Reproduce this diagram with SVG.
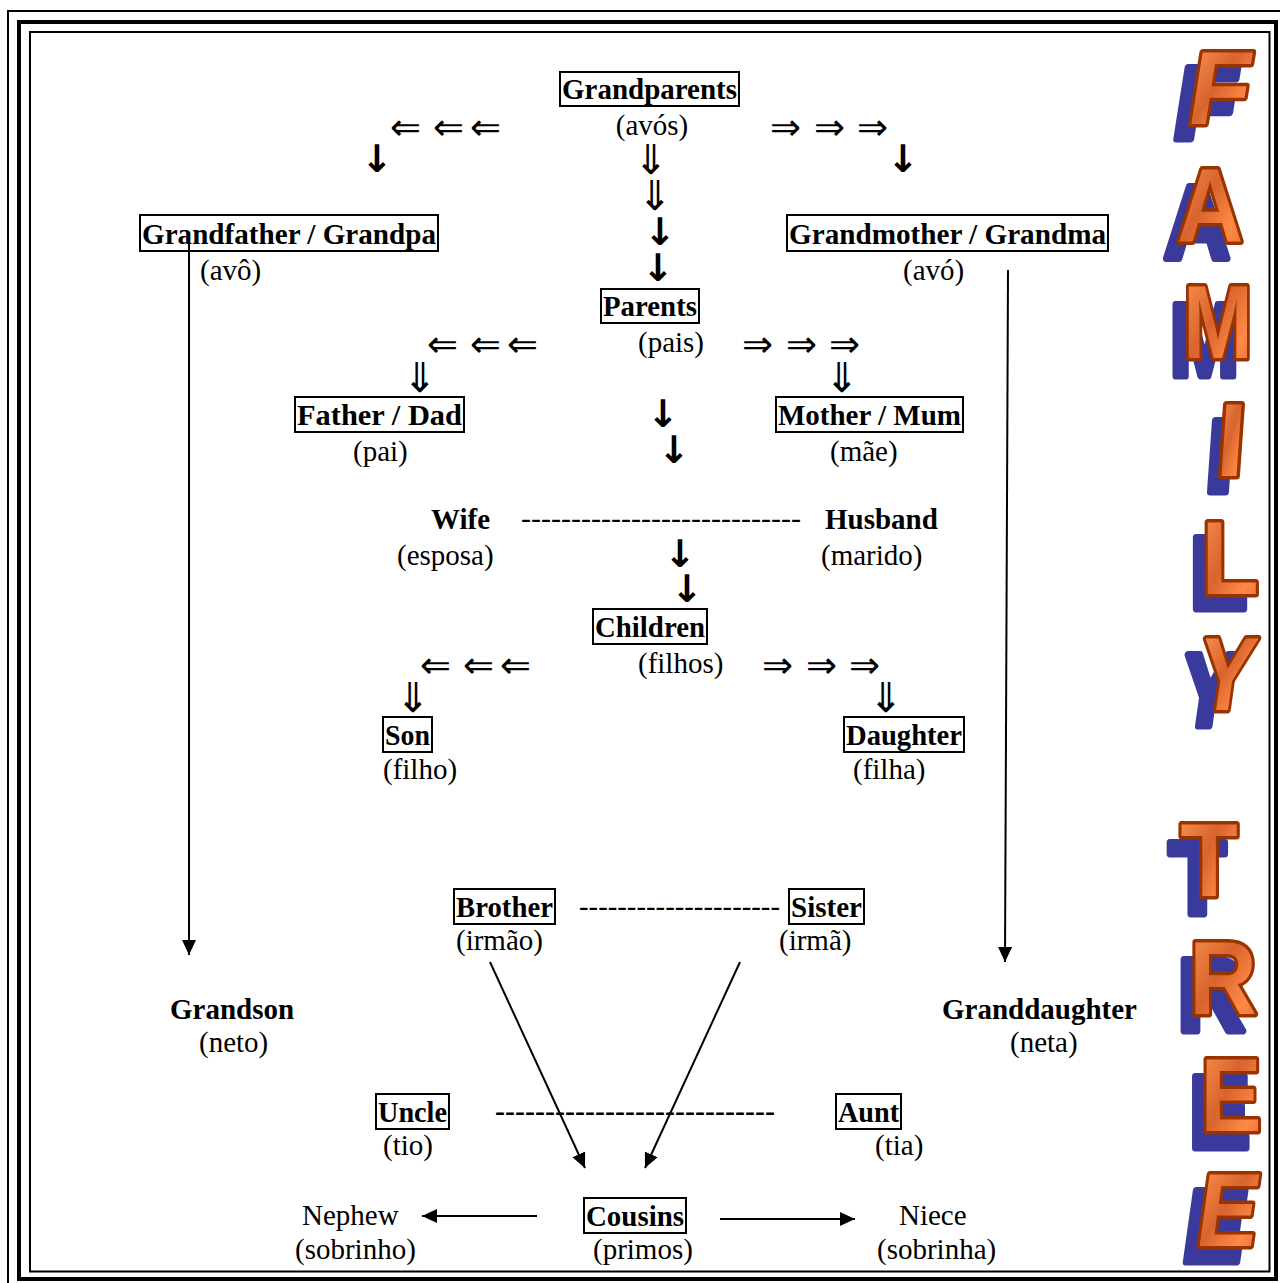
<svg xmlns="http://www.w3.org/2000/svg" width="1280" height="1283" viewBox="0 0 1280 1283">
<defs>
<style>
.b{font-family:"Liberation Serif","Times New Roman",serif;font-weight:bold;font-size:29px;fill:#000}
.n{font-family:"Liberation Serif","Times New Roman",serif;font-size:29px;fill:#000}
.m{font-family:"DejaVu Sans",sans-serif;font-size:37px;fill:#000}
.v{font-family:"DejaVu Sans",sans-serif;font-size:41px;fill:#000}
.d{font-family:"DejaVu Sans",sans-serif;font-size:38px;font-weight:bold;fill:#000}
.bx{fill:none;stroke:#000;stroke-width:2}
.ln{fill:none;stroke:#000;stroke-width:2}
.fr{fill:none;stroke:#000}
.sh{font-family:"Liberation Sans",Arial,sans-serif;font-weight:bold;font-size:104px;fill:#3a3a9c;stroke:#3a3a9c;stroke-width:7;stroke-linejoin:round}
.fg{font-family:"Liberation Sans",Arial,sans-serif;font-weight:bold;font-size:104px;fill:url(#og);stroke:#993300;stroke-width:7;stroke-linejoin:round;paint-order:stroke fill}
</style>
<linearGradient id="og" x1="0" y1="0" x2="1" y2="1">
<stop offset="0" stop-color="#ff9650"/>
<stop offset="0.45" stop-color="#d8642e"/>
<stop offset="0.75" stop-color="#ff8a45"/>
<stop offset="1" stop-color="#e06c34"/>
</linearGradient>
<marker id="ah" markerUnits="userSpaceOnUse" markerWidth="16" markerHeight="14" refX="15" refY="7" orient="auto">
<path d="M0,0 L15,7 L0,14 z" fill="#000"/>
</marker>
</defs>
<rect width="1280" height="1283" fill="#fff"/>
<g id="frame">
<rect class="fr" x="8" y="11" width="1300" height="1300" stroke-width="2"/>
<rect class="fr" x="19" y="22" width="1257" height="1257" stroke-width="4"/>
<rect class="fr" x="30" y="32" width="1239.5" height="1239.5" stroke-width="2"/>
</g>

<g id="title">
<g transform="translate(1215,124) skewX(-9) scale(0.95,1)"><text class="sh" x="-13" y="15" text-anchor="middle">F</text><text class="fg" x="0" y="0" text-anchor="middle">F</text></g>
<g transform="translate(1210,241) scale(0.88,1)"><text class="sh" x="-15" y="17" text-anchor="middle">A</text><text class="fg" x="0" y="0" text-anchor="middle">A</text></g>
<g transform="translate(1218,358) scale(0.8,1)"><text class="sh" x="-17" y="18" text-anchor="middle">M</text><text class="fg" x="0" y="0" text-anchor="middle">M</text></g>
<g transform="translate(1229,476) skewX(-4)"><text class="sh" x="-10" y="16" text-anchor="middle">I</text><text class="fg" x="0" y="0" text-anchor="middle">I</text></g>
<g transform="translate(1230,594) scale(0.9,1)"><text class="sh" x="-13" y="15" text-anchor="middle">L</text><text class="fg" x="0" y="0" text-anchor="middle">L</text></g>
<g transform="translate(1222,710) skewX(-8) scale(0.8,1)"><text class="sh" x="-20" y="16" text-anchor="middle">Y</text><text class="fg" x="0" y="0" text-anchor="middle">Y</text></g>
<g transform="translate(1209,896) scale(0.9,1)"><text class="sh" x="-13" y="18" text-anchor="middle">T</text><text class="fg" x="0" y="0" text-anchor="middle">T</text></g>
<g transform="translate(1223,1014) scale(0.9,1)"><text class="sh" x="-13" y="17" text-anchor="middle">R</text><text class="fg" x="0" y="0" text-anchor="middle">R</text></g>
<g transform="translate(1231,1131) scale(0.88,1)"><text class="sh" x="-13" y="17" text-anchor="middle">E</text><text class="fg" x="0" y="0" text-anchor="middle">E</text></g>
<g transform="translate(1224,1246) skewX(-8) scale(0.88,1)"><text class="sh" x="-13" y="16" text-anchor="middle">E</text><text class="fg" x="0" y="0" text-anchor="middle">E</text></g>
</g>

<g id="connectors">
<line class="ln" x1="189" y1="240" x2="189" y2="955" marker-end="url(#ah)"/>
<line class="ln" x1="1008" y1="270" x2="1005" y2="962" marker-end="url(#ah)"/>
<line class="ln" x1="490" y1="962" x2="585" y2="1168" marker-end="url(#ah)"/>
<line class="ln" x1="740" y1="962" x2="645" y2="1168" marker-end="url(#ah)"/>
<line class="ln" x1="537" y1="1216" x2="422" y2="1216" marker-end="url(#ah)"/>
<line class="ln" x1="720" y1="1219" x2="855" y2="1219" marker-end="url(#ah)"/>
<text class="n" x="521" y="528" textLength="280" lengthAdjust="spacingAndGlyphs">----------------------------</text>
<text class="n" x="579" y="916" textLength="201" lengthAdjust="spacingAndGlyphs">---------------------</text>
<text class="b" x="495" y="1121" textLength="280" lengthAdjust="spacingAndGlyphs">----------------------------</text>
<text class="m" x="390 420 433 470" y="140">⇐ ⇐⇐</text>
<text class="m" x="770 800 814 843 857" y="140">⇒ ⇒ ⇒</text>
<text class="m" x="427 457 470 507" y="357">⇐ ⇐⇐</text>
<text class="m" x="742 772 786 815 829" y="357">⇒ ⇒ ⇒</text>
<text class="m" x="420 450 463 500" y="678">⇐ ⇐⇐</text>
<text class="m" x="762 792 806 835 849" y="678">⇒ ⇒ ⇒</text>
<g class="v" text-anchor="middle">
<text x="651" y="174">⇓</text>
<text x="655" y="210">⇓</text>
<text x="420" y="392">⇓</text>
<text x="842" y="392">⇓</text>
<text x="413" y="712">⇓</text>
<text x="886" y="712">⇓</text>
</g>
<g class="d" text-anchor="middle">
<text x="377" y="172">↓</text>
<text x="903" y="172">↓</text>
<text x="660" y="245">↓</text>
<text x="658" y="281">↓</text>
<text x="663" y="427">↓</text>
<text x="674" y="463">↓</text>
<text x="680" y="567">↓</text>
<text x="687" y="602">↓</text>
</g>
</g>

<g id="grandparents"><rect class="bx" x="560" y="72" width="179" height="34"/><text class="b" x="562" y="99" textLength="175" lengthAdjust="spacingAndGlyphs">Grandparents</text><text class="n" x="652" y="135" text-anchor="middle">(avós)</text></g>
<g id="grandfather"><rect class="bx" x="140" y="215" width="298" height="36"/><text class="b" x="142" y="244" textLength="294" lengthAdjust="spacingAndGlyphs">Grandfather / Grandpa</text><text class="n" x="200" y="280">(avô)</text></g>
<g id="grandmother"><rect class="bx" x="787" y="215" width="321" height="36"/><text class="b" x="789" y="244" textLength="317" lengthAdjust="spacingAndGlyphs">Grandmother / Grandma</text><text class="n" x="903" y="280">(avó)</text></g>
<g id="parents"><rect class="bx" x="601" y="289" width="98" height="34"/><text class="b" x="603" y="316" textLength="94" lengthAdjust="spacingAndGlyphs">Parents</text><text class="n" x="638" y="352">(pais)</text></g>
<g id="father"><rect class="bx" x="295" y="397" width="169" height="35"/><text class="b" x="297" y="425" textLength="165" lengthAdjust="spacingAndGlyphs">Father / Dad</text><text class="n" x="353" y="461">(pai)</text></g>
<g id="mother"><rect class="bx" x="776" y="397" width="187" height="35"/><text class="b" x="778" y="425" textLength="183" lengthAdjust="spacingAndGlyphs">Mother / Mum</text><text class="n" x="830" y="461">(mãe)</text></g>
<g id="wife"><text class="b" x="431" y="529">Wife</text><text class="n" x="397" y="565">(esposa)</text></g>
<g id="husband"><text class="b" x="825" y="529">Husband</text><text class="n" x="821" y="565">(marido)</text></g>
<g id="children"><rect class="bx" x="593" y="609" width="114" height="35"/><text class="b" x="595" y="637" textLength="110" lengthAdjust="spacingAndGlyphs">Children</text><text class="n" x="638" y="673">(filhos)</text></g>
<g id="son"><rect class="bx" x="383" y="717" width="49" height="35"/><text class="b" x="385" y="745" textLength="45" lengthAdjust="spacingAndGlyphs">Son</text><text class="n" x="383" y="779">(filho)</text></g>
<g id="daughter"><rect class="bx" x="844" y="717" width="120" height="35"/><text class="b" x="846" y="745" textLength="116" lengthAdjust="spacingAndGlyphs">Daughter</text><text class="n" x="853" y="779">(filha)</text></g>
<g id="brother"><rect class="bx" x="454" y="889" width="101" height="35"/><text class="b" x="456" y="917" textLength="97" lengthAdjust="spacingAndGlyphs">Brother</text><text class="n" x="456" y="950">(irmão)</text></g>
<g id="sister"><rect class="bx" x="789" y="889" width="75" height="35"/><text class="b" x="791" y="917" textLength="71" lengthAdjust="spacingAndGlyphs">Sister</text><text class="n" x="779" y="950">(irmã)</text></g>
<g id="grandson"><text class="b" x="170" y="1019">Grandson</text><text class="n" x="199" y="1052">(neto)</text></g>
<g id="granddaughter"><text class="b" x="942" y="1019">Granddaughter</text><text class="n" x="1010" y="1052">(neta)</text></g>
<g id="uncle"><rect class="bx" x="376" y="1094" width="73" height="35"/><text class="b" x="378" y="1122" textLength="69" lengthAdjust="spacingAndGlyphs">Uncle</text><text class="n" x="383" y="1155">(tio)</text></g>
<g id="aunt"><rect class="bx" x="836" y="1094" width="65" height="35"/><text class="b" x="838" y="1122" textLength="61" lengthAdjust="spacingAndGlyphs">Aunt</text><text class="n" x="875" y="1155">(tia)</text></g>
<g id="cousins"><rect class="bx" x="584" y="1198" width="102" height="35"/><text class="b" x="586" y="1226" textLength="98" lengthAdjust="spacingAndGlyphs">Cousins</text><text class="n" x="593" y="1259">(primos)</text></g>
<g id="nephew"><text class="n" x="302" y="1225">Nephew</text><text class="n" x="295" y="1259">(sobrinho)</text></g>
<g id="niece"><text class="n" x="899" y="1225">Niece</text><text class="n" x="877" y="1259">(sobrinha)</text></g>
</svg>
